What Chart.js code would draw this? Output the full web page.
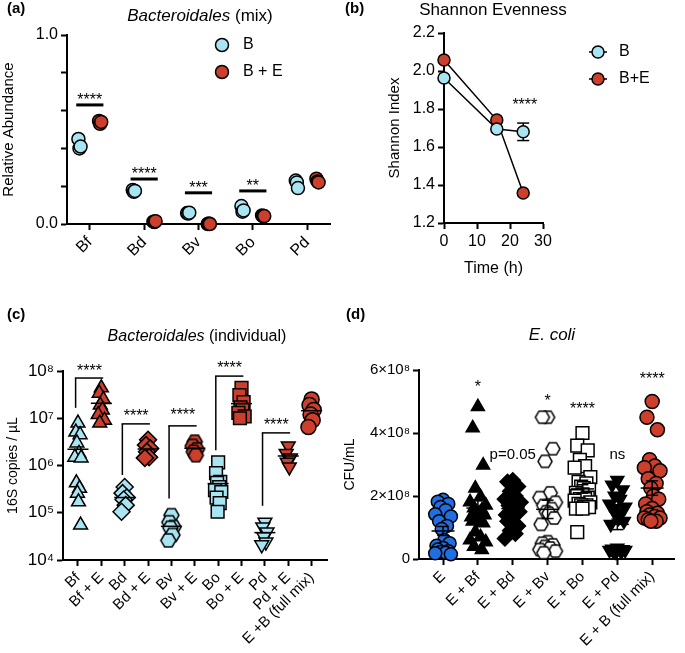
<!DOCTYPE html>
<html>
<head>
<meta charset="utf-8">
<title>Bacteroidales / E. coli</title>
<script src="https://cdn.jsdelivr.net/npm/chart.js@4.4.1/dist/chart.umd.min.js"></script>
<style>
  body { margin: 0; background: #fff; }
  #figure { position: relative; width: 685px; height: 653px; overflow: hidden; }
  #figure canvas { position: absolute; }
</style>
</head>
<body>
<div id="figure">
  <canvas id="chartA" width="340" height="290" style="left:0;top:0"></canvas>
  <canvas id="chartB" width="345" height="290" style="left:340px;top:0"></canvas>
  <canvas id="chartC" width="338" height="353" style="left:0;top:300px"></canvas>
  <canvas id="chartD" width="347" height="353" style="left:338px;top:300px"></canvas>
</div>
<script>
// (a) relative abundance in the mix, 3 replicates per species
const mixSpecies = ['Bf', 'Bd', 'Bv', 'Bo', 'Pd'];
const mixB  = [[0.45, 0.40, 0.41], [0.18, 0.17, 0.175], [0.058, 0.055, 0.06], [0.095, 0.065, 0.072], [0.23, 0.22, 0.19]];
const mixBE = [[0.545, 0.53, 0.54], [0.012, 0.01, 0.015], [0.0, 0.002, 0.0], [0.045, 0.04, 0.042], [0.24, 0.225, 0.22]];
const mixStars = ['****', '****', '***', '**', ''];
const mixBarY  = [0.63, 0.238, 0.165, 0.175, null];

// (b) Shannon evenness over time
const timeHours = [0, 16, 24];
const shannonB = [1.963, 1.695, 1.68];
const shannonBsem = [0, 0, 0.046];
const shannonBE = [2.058, 1.742, 1.358];

// (c) 16S copies / uL, individual cultures
const indLabels = ['Bf', 'Bf + E', 'Bd', 'Bd + E', 'Bv', 'Bv + E', 'Bo', 'Bo + E', 'Pd', 'Pd + E', 'E +B (full mix)'];
const indBf   = [7.9e6, 5.1e6, 4.5e6, 3.0e6, 1.8e6, 1.5e6, 1.45e6, 4.3e5, 3.3e5, 2.6e5, 1.7e5, 5.5e4];
const indBfE  = [4.4e7, 3.4e7, 2.5e7, 1.9e7, 1.5e7, 1.2e7, 9.1e6, 7.9e6];
const indBd   = [3.5e5, 2.6e5, 2.1e5, 1.9e5, 1.45e5, 1.05e5];
const indBdE  = [3.5e6, 2.7e6, 2.3e6, 1.95e6, 1.5e6, 1.45e6];
const indBv   = [8.9e4, 6.3e4, 5.0e4, 4.8e4, 3.4e4, 2.6e4];
const indBvE  = [3.2e6, 2.6e6, 2.2e6, 1.95e6, 1.65e6];
const indBo   = [1.17e6, 6.9e5, 4.5e5, 4.3e5, 3.5e5, 3.0e5, 2.75e5, 2.1e5, 1.6e5, 1.05e5];
const indBoE  = [4.4e7, 3.1e7, 2.2e7, 1.7e7, 1.5e7, 1.3e7, 1.1e7, 1.0e7];
const indPd   = [6.3e4, 5.0e4, 3.9e4, 3.1e4, 2.4e4, 2.1e4];
const indPdE  = [2.6e6, 1.8e6, 1.45e6, 1.17e6, 9.3e5];
const indMix  = [2.5e7, 1.9e7, 1.5e7, 1.2e7, 9.1e6, 6.5e6];
// brackets: from group, to group, left leg bottom, bracket top, stars level
const indBrackets = [
  [0, 1, 1.66e7, 7.1e7, 1.2e8],
  [2, 3, 6.3e5, 7.6e6, 1.3e7],
  [4, 5, 2.0e5, 6.9e6, 1.35e7],
  [6, 7, 2.1e6, 7.8e7, 1.35e8],
  [8, 9, 1.4e5, 4.9e6, 8.7e6]
];

// (d) E. coli CFU/mL, in units of 10^8
const ecoliLabels = ['E', 'E + Bf', 'E + Bd', 'E + Bv', 'E + Bo', 'E + Pd', 'E + B (full mix)'];
const cfuE   = [1.88, 1.82, 1.75, 1.65, 1.55, 1.42, 1.35, 1.2, 1.05, 0.95, 0.6, 0.5, 0.42, 0.35, 0.3, 0.25, 0.22, 0.2, 0.18, 0.15];
const cfuBf  = [4.83, 4.16, 2.98, 2.25, 1.97, 1.81, 1.71, 1.62, 1.55, 1.49, 1.45, 1.4, 1.33, 1.3, 1.2, 1.14, 0.86, 0.7, 0.6, 0.54, 0.4, 0.29];
const cfuBd  = [2.5, 2.45, 2.3, 2.15, 2.0, 1.9, 1.8, 1.7, 1.65, 1.6, 1.55, 1.5, 1.4, 1.3, 1.2, 1.05, 0.9, 0.8, 0.65];
const cfuBv  = [4.5, 4.5, 3.5, 3.1, 2.1, 1.95, 1.8, 1.7, 1.6, 1.5, 1.45, 1.3, 1.1, 0.55, 0.5, 0.45, 0.4, 0.35, 0.3, 0.25, 0.2];
const cfuBo  = [4.0, 3.6, 3.45, 3.15, 2.95, 2.9, 2.6, 2.45, 2.4, 2.3, 2.25, 2.2, 2.1, 2.05, 2.0, 1.95, 1.9, 1.9, 1.85, 1.8, 1.75, 1.7, 1.7, 1.65, 1.65, 1.6, 1.6, 0.85];
const cfuPd  = [2.5, 2.35, 2.2, 2.0, 1.9, 1.75, 1.65, 1.6, 1.5, 1.4, 1.3, 1.2, 1.1, 0.35, 0.32, 0.3, 0.3, 0.3, 0.28, 0.28, 0.25, 0.25, 0.22];
const cfuMix = [5.0, 4.5, 4.1, 3.15, 2.95, 2.9, 2.8, 2.55, 2.4, 2.25, 2.0, 1.9, 1.75, 1.6, 1.5, 1.45, 1.4, 1.35, 1.3, 1.3, 1.25, 1.2, 1.2];
const ecoliSig  = ['', '*', 'p=0.05', '*', '****', 'ns', '****'];
const ecoliSigY = [null, 5.56, 3.3, 5.11, 4.86, 3.3, 5.81];

const FONT = "'Liberation Sans', Arial, Helvetica, sans-serif";
const LIGHT = '#a9e4f3';
const RED = '#cc3f2c';
const BLUE = '#1f6fe3';
const JIT = [0, -0.6, 0.6, -0.3, 0.3, -0.9, 0.9, -0.45, 0.45, -0.15, 0.15, 0.75, -0.75];
const SUP = { 4: '\u2074', 5: '\u2075', 6: '\u2076', 7: '\u2077', 8: '\u2078' };

function hexagon(fill, size) {
  const c = document.createElement('canvas');
  c.width = c.height = size + 4;
  const g = c.getContext('2d');
  const r = size / 2, m = c.width / 2;
  g.beginPath();
  for (let k = 0; k < 6; k++) {
    const a = Math.PI / 3 * k;
    g.lineTo(m + r * Math.cos(a), m + r * Math.sin(a));
  }
  g.closePath();
  g.fillStyle = fill;
  g.fill();
  g.lineWidth = 1.5;
  g.strokeStyle = '#000';
  g.stroke();
  return c;
}

function spread(values, idx, width) {
  return values.map((v, k) => ({ x: idx + JIT[k % JIT.length] * width, y: v }));
}
function mean(a) { return a.reduce((s, v) => s + v, 0) / a.length; }
function sem(a) {
  const m = mean(a);
  const sd = Math.sqrt(a.reduce((s, v) => s + (v - m) * (v - m), 0) / (a.length - 1));
  return sd / Math.sqrt(a.length);
}

function text(ctx, str, x, y, size, style, align) {
  ctx.font = (style || '') + ' ' + size + 'px ' + FONT;
  ctx.textAlign = align || 'center';
  ctx.textBaseline = 'middle';
  ctx.fillStyle = '#000';
  ctx.fillText(str, x, y);
}
// title with italic parts, centred on x
function richText(ctx, parts, x, y, size) {
  let total = 0;
  const widths = parts.map(p => {
    ctx.font = (p[1] ? 'italic ' : '') + size + 'px ' + FONT;
    const w = ctx.measureText(p[0]).width;
    total += w;
    return w;
  });
  let cx = x - total / 2;
  parts.forEach((p, i) => {
    text(ctx, p[0], cx, y, size, p[1] ? 'italic' : '', 'left');
    cx += widths[i];
  });
}
function marker(ctx, x, y, r, fill) {
  ctx.beginPath();
  ctx.arc(x, y, r, 0, 2 * Math.PI);
  ctx.fillStyle = fill;
  ctx.fill();
  ctx.lineWidth = 1.5;
  ctx.strokeStyle = '#000';
  ctx.stroke();
}
function line(ctx, x1, y1, x2, y2, w) {
  ctx.beginPath();
  ctx.moveTo(x1, y1);
  ctx.lineTo(x2, y2);
  ctx.lineWidth = w;
  ctx.strokeStyle = '#000';
  ctx.stroke();
}

function styledAxis(opts, size) {
  const ticks = Object.assign({ color: '#000', font: { family: FONT, size: size }, padding: 3 }, opts.ticks || {});
  return Object.assign({
    border: { color: '#000', width: 2 },
    grid: { drawOnChartArea: false, tickColor: '#000', tickLength: 6, tickWidth: 2 }
  }, opts, { ticks: ticks });
}
function axisTitle(str, size) {
  return { display: true, text: str, color: '#000', font: { family: FONT, size: size }, padding: 0 };
}
function categoryTicks(labels) { return s => { s.ticks = labels.map((_, i) => ({ value: i })); }; }
function fixedWidth(w) { return s => { s.width = w; }; }
function fixedHeight(h) { return s => { s.height = h; }; }

const baseOptions = {
  responsive: false,
  animation: false,
  events: [],
  plugins: { legend: { display: false }, tooltip: { enabled: false } }
};

// ---------- (a) ----------
function mixPoints(groups, offset) {
  return groups.flatMap((reps, i) => reps.map((v, k) => ({ x: i + offset + (k - 1) * 0.02, y: v })));
}
new Chart(document.getElementById('chartA'), {
  type: 'scatter',
  data: {
    datasets: [
      { data: mixPoints(mixB, -0.19), backgroundColor: LIGHT, borderColor: '#000', borderWidth: 1.5, pointRadius: 6.5, clip: false },
      { data: mixPoints(mixBE, 0.19), backgroundColor: RED, borderColor: '#000', borderWidth: 1.5, pointRadius: 6.5, clip: false }
    ]
  },
  options: Object.assign({}, baseOptions, {
    layout: { padding: { left: 0, top: 35, right: 10, bottom: 0 } },
    scales: {
      x: styledAxis({
        type: 'linear', min: -0.42, max: 4.42,
        afterBuildTicks: categoryTicks(mixSpecies), afterFit: fixedHeight(66),
        ticks: { callback: v => mixSpecies[v], minRotation: 45, maxRotation: 45, autoSkip: false }
      }, 16),
      y: styledAxis({
        type: 'linear', min: 0, max: 1, afterFit: fixedWidth(67),
        title: axisTitle('Relative Abundance', 15),
        ticks: {
          stepSize: 0.1,
          callback: v => Math.abs(v * 2 - Math.round(v * 2)) < 1e-6 ? v.toFixed(1) : ''
        }
      }, 16)
    }
  }),
  plugins: [{
    id: 'decorA',
    afterDraw(chart) {
      const ctx = chart.ctx, xs = chart.scales.x, ys = chart.scales.y;
      ctx.save();
      text(ctx, '(a)', 7, 9, 15, 'bold', 'left');
      richText(ctx, [['Bacteroidales', true], [' (mix)', false]], 200, 16, 17);
      marker(ctx, 222, 45, 6.5, LIGHT);
      marker(ctx, 222, 72, 6.5, RED);
      text(ctx, 'B', 243, 45, 16, '', 'left');
      text(ctx, 'B + E', 243, 72, 16, '', 'left');
      mixBarY.forEach((yv, i) => {
        if (yv === null) return;
        const y = ys.getPixelForValue(yv);
        const x1 = xs.getPixelForValue(i - 0.25), x2 = xs.getPixelForValue(i + 0.25);
        line(ctx, x1, y, x2, y, 3);
        text(ctx, mixStars[i], (x1 + x2) / 2, y - 8 + 4, 16);
      });
      ctx.restore();
    }
  }]
});

// ---------- (b) ----------
new Chart(document.getElementById('chartB'), {
  type: 'scatter',
  data: {
    datasets: [
      { data: timeHours.map((t, i) => ({ x: t, y: shannonB[i] })), showLine: true, borderColor: '#000', borderWidth: 1.5,
        pointBackgroundColor: LIGHT, pointBorderColor: '#000', pointBorderWidth: 1.5, pointRadius: 6, clip: false },
      { data: timeHours.map((t, i) => ({ x: t, y: shannonBE[i] })), showLine: true, borderColor: '#000', borderWidth: 1.5,
        pointBackgroundColor: RED, pointBorderColor: '#000', pointBorderWidth: 1.5, pointRadius: 6, clip: false }
    ]
  },
  options: Object.assign({}, baseOptions, {
    layout: { padding: { left: 46, top: 33, right: 142, bottom: 12 } },
    scales: {
      x: styledAxis({
        type: 'linear', min: 0, max: 30, afterFit: fixedHeight(55),
        title: axisTitle('Time (h)', 16),
        ticks: { stepSize: 10, maxRotation: 0 }
      }, 16),
      y: styledAxis({
        type: 'linear', min: 1.2, max: 2.2, afterFit: fixedWidth(58),
        title: axisTitle('Shannon Index', 15),
        ticks: { stepSize: 0.2, callback: v => v.toFixed(1) }
      }, 16)
    }
  }),
  plugins: [{
    id: 'decorB',
    beforeDatasetsDraw(chart) {
      const ctx = chart.ctx, xs = chart.scales.x, ys = chart.scales.y;
      ctx.save();
      timeHours.forEach((t, i) => {
        if (!shannonBsem[i]) return;
        const x = xs.getPixelForValue(t);
        const yt = ys.getPixelForValue(shannonB[i] + shannonBsem[i]);
        const yb = ys.getPixelForValue(shannonB[i] - shannonBsem[i]);
        line(ctx, x, yt, x, yb, 1.5);
        line(ctx, x - 6, yt, x + 6, yt, 1.5);
        line(ctx, x - 6, yb, x + 6, yb, 1.5);
      });
      ctx.restore();
    },
    afterDraw(chart) {
      const ctx = chart.ctx, xs = chart.scales.x, ys = chart.scales.y;
      ctx.save();
      text(ctx, '(b)', 5, 9, 15, 'bold', 'left');
      richText(ctx, [['Shannon Evenness', false]], 153, 10, 17);
      [[LIGHT, 'B', 52], [RED, 'B+E', 79]].forEach(([c, lbl, y]) => {
        line(ctx, 249, y, 267, y, 1.5);
        marker(ctx, 258, y, 6, c);
        text(ctx, lbl, 279, y, 16, '', 'left');
      });
      text(ctx, '****', xs.getPixelForValue(24.5), ys.getPixelForValue(1.837) + 4, 16);
      ctx.restore();
    }
  }]
});

// ---------- (c) ----------
const indGroups = [indBf, indBfE, indBd, indBdE, indBv, indBvE, indBo, indBoE, indPd, indPdE, indMix];
const indStyle = [
  ['triangle', LIGHT, 8, 0], ['triangle', RED, 8, 0],
  ['rectRot', LIGHT, 8.5, 0], ['rectRot', RED, 8.5, 0],
  [hexagon(LIGHT, 15), LIGHT, 7, 0], [hexagon(RED, 15), RED, 7, 0],
  ['rect', LIGHT, 9, 0], ['rect', RED, 9, 0],
  ['triangle', LIGHT, 8, 180], ['triangle', RED, 8, 180],
  ['circle', RED, 7.5, 0]
];
new Chart(document.getElementById('chartC'), {
  type: 'scatter',
  data: {
    datasets: indGroups.map((vals, i) => ({
      data: spread(vals, i, 0.15),
      pointStyle: indStyle[i][0], backgroundColor: indStyle[i][1], borderColor: '#000', borderWidth: 1.5,
      pointRadius: indStyle[i][2], rotation: indStyle[i][3], clip: false
    }))
  },
  options: Object.assign({}, baseOptions, {
    layout: { padding: { left: 5, top: 71, right: 8, bottom: 0 } },
    scales: {
      x: styledAxis({
        type: 'linear', min: -0.64, max: 10.68,
        afterBuildTicks: categoryTicks(indLabels), afterFit: fixedHeight(93),
        ticks: { callback: v => indLabels[v], minRotation: 45, maxRotation: 45, autoSkip: false }
      }, 15),
      y: styledAxis({
        type: 'logarithmic', min: 1e4, max: 1e8, afterFit: fixedWidth(58),
        afterBuildTicks: s => { s.ticks = [1e4, 1e5, 1e6, 1e7, 1e8].map(v => ({ value: v })); },
        title: axisTitle('16S copies / \u00b5L', 14),
        ticks: { callback: v => '10' + SUP[Math.round(Math.log10(v))] }
      }, 17)
    }
  }),
  plugins: [{
    id: 'decorC',
    afterDatasetsDraw(chart) {
      const ctx = chart.ctx, xs = chart.scales.x, ys = chart.scales.y;
      ctx.save();
      indGroups.forEach((vals, i) => {
        const y = ys.getPixelForValue(mean(vals));
        line(ctx, xs.getPixelForValue(i - 0.45), y, xs.getPixelForValue(i + 0.45), y, 1.5);
      });
      ctx.restore();
    },
    afterDraw(chart) {
      const ctx = chart.ctx, xs = chart.scales.x, ys = chart.scales.y;
      ctx.save();
      text(ctx, '(c)', 7, 15, 15, 'bold', 'left');
      richText(ctx, [['Bacteroidales', true], [' (individual)', false]], 197, 37, 16);
      indBrackets.forEach(([a, b, legBottom, top, starY]) => {
        const x1 = xs.getPixelForValue(a - 0.1), x2 = xs.getPixelForValue(b + 0.08);
        const yt = ys.getPixelForValue(top);
        line(ctx, x1, ys.getPixelForValue(legBottom), x1, yt, 1.5);
        line(ctx, x1 - 0.75, yt, x2, yt, 1.5);
        text(ctx, '****', (x1 + x2) / 2, ys.getPixelForValue(starY) + 4, 16);
      });
      ctx.restore();
    }
  }]
});

// ---------- (d) ----------
const ecoliGroups = [cfuE, cfuBf, cfuBd, cfuBv, cfuBo, cfuPd, cfuMix];
const ecoliStyle = [
  ['circle', BLUE, 6.5, 0], ['triangle', '#000', 7.5, 0], ['rectRot', '#000', 7.5, 0],
  [hexagon('#fff', 14), '#fff', 7, 0], ['rect', '#fff', 9, 0], ['triangle', '#000', 7.5, 180],
  ['circle', RED, 7, 0]
];
new Chart(document.getElementById('chartD'), {
  type: 'scatter',
  data: {
    datasets: ecoliGroups.map((vals, i) => ({
      data: spread(vals, i, 0.25),
      pointStyle: ecoliStyle[i][0], backgroundColor: ecoliStyle[i][1], borderColor: '#000', borderWidth: 1.5,
      pointRadius: ecoliStyle[i][2], rotation: ecoliStyle[i][3], clip: false
    }))
  },
  options: Object.assign({}, baseOptions, {
    layout: { padding: { left: 4, top: 70, right: 2, bottom: 0 } },
    scales: {
      x: styledAxis({
        type: 'linear', min: -0.69, max: 6.64,
        afterBuildTicks: categoryTicks(ecoliLabels), afterFit: fixedHeight(94),
        ticks: { callback: v => ecoliLabels[v], minRotation: 45, maxRotation: 45, autoSkip: false }
      }, 15),
      y: styledAxis({
        type: 'linear', min: 0, max: 6, afterFit: fixedWidth(77),
        title: axisTitle('CFU/mL', 14),
        ticks: { stepSize: 2, callback: v => v === 0 ? '0' : v + '\u00d710\u2078' }
      }, 15)
    }
  }),
  plugins: [{
    id: 'decorD',
    afterDatasetsDraw(chart) {
      const ctx = chart.ctx, xs = chart.scales.x, ys = chart.scales.y;
      ctx.save();
      ecoliGroups.forEach((vals, i) => {
        const m = mean(vals), se = sem(vals);
        const x = xs.getPixelForValue(i);
        const hw = xs.getPixelForValue(i + 0.33) - x, cw = xs.getPixelForValue(i + 0.17) - x;
        const ym = ys.getPixelForValue(m), yt = ys.getPixelForValue(m + se), yb = ys.getPixelForValue(m - se);
        line(ctx, x - hw, ym, x + hw, ym, 1.5);
        line(ctx, x, yt, x, yb, 1.5);
        line(ctx, x - cw, yt, x + cw, yt, 1.5);
        line(ctx, x - cw, yb, x + cw, yb, 1.5);
      });
      ctx.restore();
    },
    afterDraw(chart) {
      const ctx = chart.ctx, xs = chart.scales.x, ys = chart.scales.y;
      ctx.save();
      text(ctx, '(d)', 8, 15, 15, 'bold', 'left');
      richText(ctx, [['E. coli', true]], 214, 35, 17);
      ecoliSig.forEach((s, i) => {
        if (!s) return;
        const isStar = s.indexOf('*') === 0;
        text(ctx, s, xs.getPixelForValue(i), ys.getPixelForValue(ecoliSigY[i]) + (isStar ? 4 : 0), isStar ? 16 : 15);
      });
      ctx.restore();
    }
  }]
});
</script>
</body>
</html>
